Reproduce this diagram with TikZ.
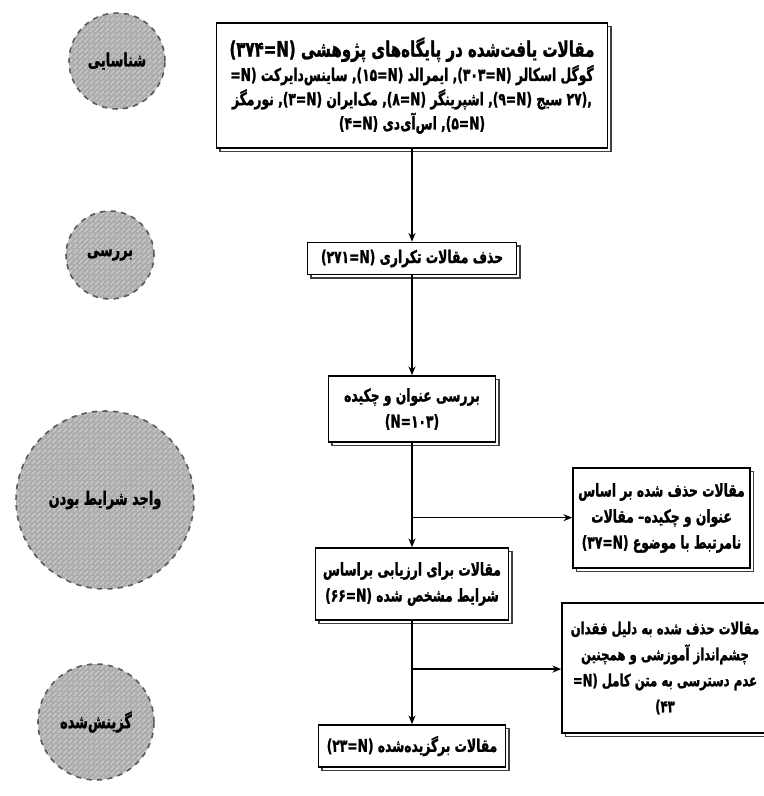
\documentclass[tikz,border=0pt]{standalone}
\usepackage{fontspec}
\newfontfamily\fa[Script=Arabic,FakeStretch=0.70,BoldFeatures={FakeBold=1.2}]{DejaVu Sans}
\TeXXeTstate=1
\usetikzlibrary{shadows,patterns,arrows.meta}
\tikzset{
  box/.style={draw=black, line width=0.9pt, fill=white, align=center, inner sep=2pt,
    copy shadow={shadow xshift=2pt, shadow yshift=-2pt, draw=black!75, fill=white, line width=0.8pt},
    font=\fa\bfseries\fontsize{10}{14.8}\selectfont},
  phase/.style={circle, draw=black!65, dashed, line width=0.9pt, inner sep=0pt,
    preaction={fill=black!32}, pattern=north east lines, pattern color=white!85!black,
    font=\fa\bfseries\fontsize{10.5}{12}\selectfont},
  arr/.style={-{Stealth[length=5pt,width=4pt]}, line width=0.8pt},
}
\begin{document}
\begin{tikzpicture}[x=0.02cm,y=-0.02cm]
\useasboundingbox (0,0) rectangle (764,796);
\fill[white] (0,0) rectangle (764,796);

% phase circles
\node[phase, minimum size=1.92cm] (p1) at (117,61) {\beginR شناسایی\endR};
\node[phase, minimum size=1.76cm] (p2) at (110,255) {\beginR بررسی\endR};
\node[phase, minimum size=3.56cm] (p3) at (105,500) {\beginR واجد شرایط بودن\endR};
\node[phase, minimum size=2.32cm] (p4) at (96,722) {\beginR گزینش‌شده\endR};

% main boxes
\node[box, minimum width=7.82cm, minimum height=2.5cm, font=\fa\bfseries\fontsize{10}{13.8}\selectfont] (a) at (412,85.5) {%
  {\fontsize{12.2}{16}\selectfont\beginR مقالات یافت‌شده در پایگاه‌های پژوهشی \beginL(۳۷۴=N)\endL\endR}\\
  \beginR گوگل اسکالر \beginL,(۳۰۳=N)\endL{} ایمرالد \beginL,(۱۵=N)\endL{} ساینس‌دایرکت \beginL=N)\endL\endR\\
  \beginR\beginL,(۲۷\endL{} سیج \beginL,(۹=N)\endL{} اشپرینگر \beginL,(۸=N)\endL{} مک‌ایران \beginL,(۳=N)\endL{} نورمگز\endR\\
  \beginR\beginL,(۵=N)\endL{} اس‌آی‌دی \beginL(۴=N)\endL\endR};
\node[box, minimum width=4.18cm, minimum height=0.64cm] (b) at (412,258.5) {%
  \beginR حذف مقالات تکراری \beginL(۲۷۱=N)\endL\endR};
\node[box, minimum width=3.34cm, minimum height=1.32cm] (c) at (412,409) {%
  \beginR بررسی عنوان و چکیده\endR\\ \beginL(N=۱۰۳)\endL};
\node[box, minimum width=3.86cm, minimum height=1.44cm] (d) at (412,584) {%
  \beginR مقالات برای ارزیابی براساس\endR\\
  \beginR شرایط مشخص شده \beginL(۶۶=N)\endL\endR};
\node[box, minimum width=3.74cm, minimum height=0.84cm] (e) at (412,746) {%
  \beginR مقالات برگزیده‌شده \beginL(۲۳=N)\endL\endR};

% side boxes
\node[box, minimum width=3.54cm, minimum height=2.0cm] (s1) at (661.5,518) {%
  \beginR مقالات حذف شده بر اساس\endR\\
  \beginR عنوان و چکیده– مقالات\endR\\
  \beginR نامرتبط با موضوع \beginL(۳۷=N)\endL\endR};
\node[box, minimum width=4.12cm, minimum height=2.6cm, font=\fa\bfseries\fontsize{9.5}{14.8}\selectfont] (s2) at (665,668) {%
  \beginR مقالات حذف شده به دلیل فقدان\endR\\
  \beginR چشم‌انداز آموزشی و همچنین\endR\\
  \beginR عدم دسترسی به متن کامل \beginL=N)\endL\endR\\
  \beginL۴۳)\endL};

% connectors
\draw[arr] (a.south) -- (b.north);
\draw[arr] (b.south) -- (c.north);
\draw[arr] (c.south) -- (d.north);
\draw[arr] (d.south) -- (e.north);
\path (c.south) -- (d.north) coordinate[pos=0.717] (j1);
\path (d.south) -- (e.north) coordinate[pos=0.467] (j2);
\draw[arr] (j1) -- (s1.west |- j1);
\draw[arr] (j2) -- (s2.west |- j2);
\end{tikzpicture}
\end{document}
